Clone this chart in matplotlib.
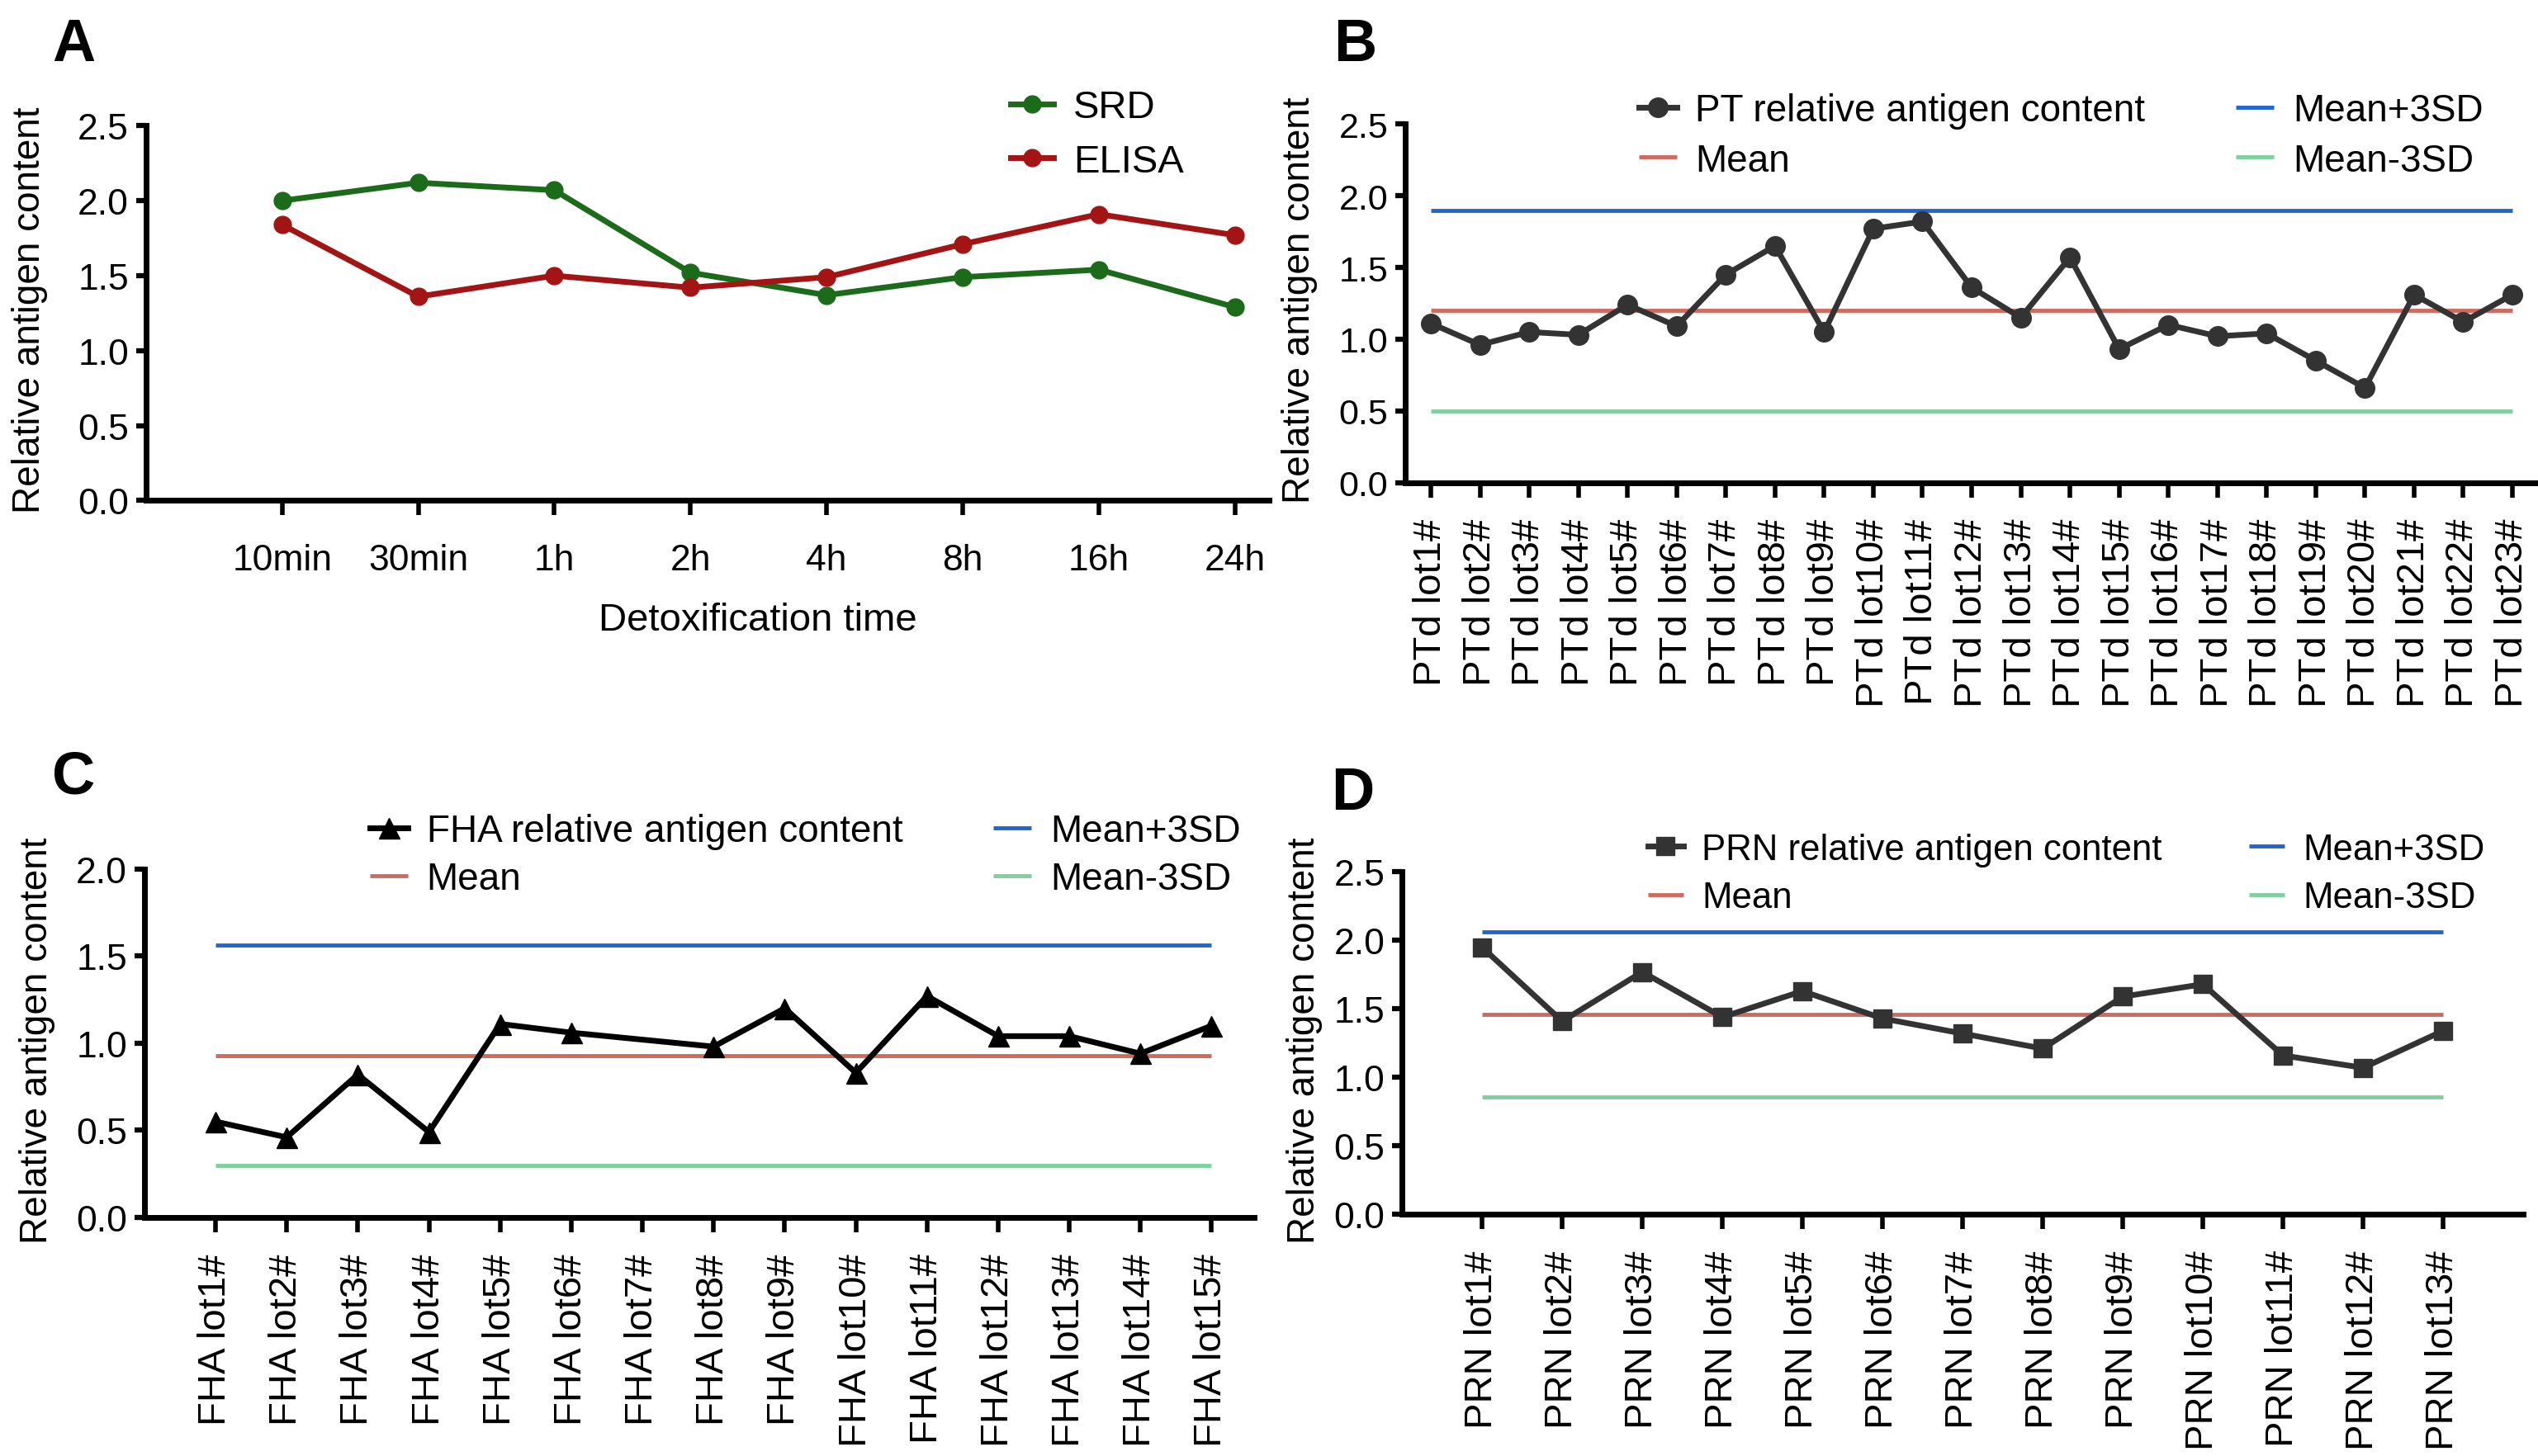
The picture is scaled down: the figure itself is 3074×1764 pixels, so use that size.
import matplotlib
matplotlib.use("Agg")
import matplotlib.pyplot as plt
import numpy as np

plt.rcParams['font.family'] = ['Liberation Sans', 'DejaVu Sans']

# panel A: detoxification time course
time_labels = ['10min', '30min', '1h', '2h', '4h', '8h', '16h', '24h']
srd_values = [2.00, 2.12, 2.07, 1.52, 1.37, 1.49, 1.54, 1.29]
elisa_values = [1.84, 1.36, 1.50, 1.42, 1.49, 1.71, 1.91, 1.77]

# panel B: PT lots
pt_lots = [f'PTd lot{i}#' for i in range(1, 24)]
pt_values = [1.11, 0.96, 1.05, 1.03, 1.24, 1.09, 1.45, 1.65, 1.05, 1.77, 1.82, 1.36,
             1.15, 1.57, 0.93, 1.10, 1.02, 1.04, 0.85, 0.66, 1.31, 1.12, 1.31]
pt_limits = {'Mean+3SD': 1.90, 'Mean': 1.20, 'Mean-3SD': 0.50}

# panel C: FHA lots (lot7 has no value)
fha_lots = [f'FHA lot{i}#' for i in range(1, 16)]
fha_values = [0.55, 0.46, 0.82, 0.49, 1.11, 1.06, np.nan, 0.98, 1.20, 0.83, 1.27,
              1.04, 1.04, 0.94, 1.10]
fha_limits = {'Mean+3SD': 1.56, 'Mean': 0.93, 'Mean-3SD': 0.30}

# panel D: PRN lots
prn_lots = [f'PRN lot{i}#' for i in range(1, 14)]
prn_values = [1.95, 1.41, 1.77, 1.44, 1.63, 1.43, 1.32, 1.21, 1.59, 1.68, 1.16, 1.07, 1.34]
prn_limits = {'Mean+3SD': 2.06, 'Mean': 1.46, 'Mean-3SD': 0.86}

LIMIT_COLORS = {'Mean+3SD': '#2166cf', 'Mean': '#cf6a5e', 'Mean-3SD': '#7fcf9f'}
LABEL_FS = 33
ROT_FS = 34
SPINE_W = 5


def style_axes(ax, ymax, xlim, tick_fs, rotate):
    for side in ('top', 'right'):
        ax.spines[side].set_visible(False)
    for side in ('left', 'bottom'):
        ax.spines[side].set_linewidth(SPINE_W)
    ax.set_xlim(*xlim)
    ax.set_ylim(0, ymax)
    yt = np.arange(0, ymax + 0.01, 0.5)
    ax.set_yticks(yt)
    ax.set_yticklabels([f'{v:.1f}' for v in yt])
    ax.tick_params(axis='y', length=9, width=4.5, labelsize=tick_fs, pad=6)
    ax.tick_params(axis='x', length=13, width=4, labelsize=ROT_FS if rotate else tick_fs,
                   pad=18 if rotate else 24)
    ax.set_ylabel('Relative antigen content', fontsize=LABEL_FS)


def lot_panel(ax, lots, values, limits, label, marker, ms, color, ymax, xlim,
              tick_fs, legend_xy, spacing, legend_fs=LABEL_FS):
    x = np.arange(len(lots))
    y = np.asarray(values, dtype=float)
    ok = ~np.isnan(y)
    line, = ax.plot(x[ok], y[ok], color=color, lw=5, marker=marker, ms=ms, label=label,
                    zorder=3)
    handles = [line]
    for name in ('Mean', 'Mean+3SD', 'Mean-3SD'):
        h = ax.hlines(limits[name], x[0], x[-1], color=LIMIT_COLORS[name], lw=3.5,
                      label=name, zorder=2)
        handles.append(h)
    ax.legend(handles, [h.get_label() for h in handles], ncol=2, frameon=False,
              fontsize=legend_fs, loc='upper left', bbox_to_anchor=legend_xy,
              borderaxespad=0, borderpad=0, handlelength=1.0, handletextpad=0.5,
              columnspacing=2.4, labelspacing=spacing)
    ax.set_xticks(x)
    ax.set_xticklabels(lots, rotation=90)
    style_axes(ax, ymax, xlim, tick_fs, rotate=True)


fig = plt.figure(figsize=(30.74, 17.65), dpi=100)

# A
ax_a = fig.add_axes([0.0575, 0.6559, 0.4425, 0.2572])
xt = np.arange(len(time_labels))
ax_a.plot(xt, srd_values, color='#1b6b1b', lw=5, marker='o', ms=15, label='SRD')
ax_a.plot(xt, elisa_values, color='#a31515', lw=5, marker='o', ms=15, label='ELISA')
ax_a.set_xticks(xt)
ax_a.set_xticklabels(time_labels)
style_axes(ax_a, 2.5, (-1, 7.25), 32, rotate=False)
ax_a.set_xlabel('Detoxification time', fontsize=34)
ax_a.xaxis.set_label_coords(0.545, -0.27)
ax_a.legend(frameon=False, fontsize=34, loc='upper left', bbox_to_anchor=(0.77, 1.097),
            borderaxespad=0, borderpad=0, handlelength=1.1, handletextpad=0.5,
            labelspacing=0.45)
ax_a.yaxis.set_label_coords(-0.087, 0.51)

# B
ax_b = fig.add_axes([0.5537, 0.6682, 0.4463, 0.2461])
lot_panel(ax_b, pt_lots, pt_values, pt_limits, 'PT relative antigen content', 'o', 17,
          '#333333', 2.5, (-0.52, 22.52), 31, (0.206, 1.087), 0.35)
ax_b.yaxis.set_label_coords(-0.077, 0.51)

# C
ax_c = fig.add_axes([0.0569, 0.1637, 0.4373, 0.2394])
lot_panel(ax_c, fha_lots, fha_values, fha_limits, 'FHA relative antigen content', '^', 18,
          '#000000', 2.0, (-1, 14.6), 32, (0.203, 1.16), 0.3)
ax_c.yaxis.set_label_coords(-0.080, 0.51)

# D
ax_d = fig.add_axes([0.5524, 0.1659, 0.4418, 0.2350])
lot_panel(ax_d, prn_lots, prn_values, prn_limits, 'PRN relative antigen content', 's', 15.5,
          '#333333', 2.5, (-1, 13), 32, (0.219, 1.115), 0.4, legend_fs=31.5)
ax_d.yaxis.set_label_coords(-0.071, 0.51)

# panel letters
for letter, (px, py) in {'A': (0.029, 0.969), 'B': (0.534, 0.969),
                         'C': (0.029, 0.466), 'D': (0.533, 0.455)}.items():
    fig.text(px, py, letter, fontsize=52, fontweight='bold', ha='center', va='center')

fig.savefig('out.png', dpi=100)
